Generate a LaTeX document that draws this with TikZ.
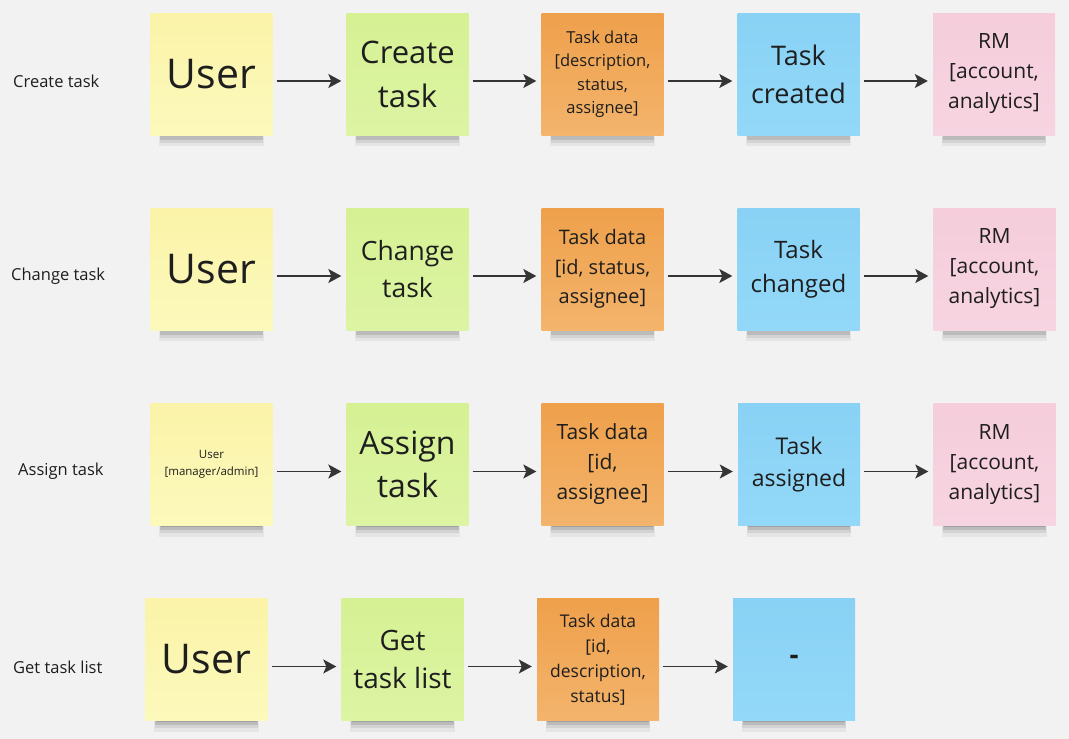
\documentclass[tikz,border=0pt]{standalone}
\usepackage{fontspec}
\setmainfont{Open Sans}
\usetikzlibrary{arrows.meta}
\usetikzlibrary{shadows}

\definecolor{board}{HTML}{F2F2F2}
\definecolor{ink}{HTML}{1E1E1E}
\definecolor{arrowgray}{HTML}{353535}
\definecolor{userA}{HTML}{FAF3A8}
\definecolor{userB}{HTML}{FCF9BC}
\definecolor{cmdA}{HTML}{D5F193}
\definecolor{cmdB}{HTML}{DDF4A4}
\definecolor{dataA}{HTML}{EFA04B}
\definecolor{dataB}{HTML}{F3B46C}
\definecolor{evtA}{HTML}{89D2F5}
\definecolor{evtB}{HTML}{93D8F8}
\definecolor{rmA}{HTML}{F5CDDB}
\definecolor{rmB}{HTML}{F7D4E1}

\tikzset{
  note/.style={minimum width=122pt, minimum height=122pt, inner sep=2pt,
    align=center, text=ink,
    general shadow={fill=black, opacity=.05, shadow yshift=-23pt, shadow scale=.86},
    general shadow={fill=black, opacity=.08, shadow yshift=-20pt, shadow scale=.85},
    general shadow={fill=black, opacity=.11, shadow yshift=-17pt, shadow scale=.84},
    general shadow={fill=black, opacity=.14, shadow yshift=-14pt, shadow scale=.83},
    general shadow={fill=black, opacity=.16, shadow yshift=-12pt, shadow scale=.82}},
  actor/.style={note, top color=userA, bottom color=userB},
  command/.style={note, top color=cmdA, bottom color=cmdB},
  payload/.style={note, top color=dataA, bottom color=dataB},
  event/.style={note, top color=evtA, bottom color=evtB},
  readmodel/.style={note, top color=rmA, bottom color=rmB},
  fs/.style 2 args={font=\fontsize{#1}{#2}\selectfont},
  flow/.style={draw=arrowgray, line width=1.3pt,
    -{Stealth[length=13pt,width=14pt,inset=3pt]},
    shorten <=4pt, shorten >=5pt},
  rowlabel/.style={anchor=west, inner sep=0pt, text=ink, font=\fontsize{16.5}{20}\selectfont}
}

\begin{document}
\begin{tikzpicture}[x=1pt, y=-1pt]
  \fill[board] (0,0) rectangle (1069,739);
  \useasboundingbox (0,0) rectangle (1069,739);

  % create task
  \node[rowlabel] (lcreate) at (13,81) {Create task};
  \node[actor, fs={41}{56}] (user1) at (211.5,74) {User};
  \node[command, fs={31}{44}] (create) at (407.5,74) {Create\\task};
  \node[payload, fs={16.5}{23.5}] (data1) at (602.5,74) {Task data\\{[}description,\\status,\\assignee{]}};
  \node[event, fs={27}{38}] (created) at (798.5,74) {Task\\created};
  \node[readmodel, fs={21}{30}] (rm1) at (994,74) {RM\\{[}account,\\analytics{]}};
  \draw[flow] ([yshift=-7pt]user1.east) -- ([yshift=-7pt]create.west);
  \draw[flow] ([yshift=-7pt]create.east) -- ([yshift=-7pt]data1.west);
  \draw[flow] ([yshift=-7pt]data1.east) -- ([yshift=-7pt]created.west);
  \draw[flow] ([yshift=-7pt]created.east) -- ([yshift=-7pt]rm1.west);

  % change task
  \node[rowlabel] (lchange) at (11,276) {Change task};
  \node[actor, fs={41}{56}] (user2) at (211.5,269) {User};
  \node[command, fs={26.5}{37}] (change) at (407.5,269) {Change\\task};
  \node[payload, fs={20}{29.5}] (data2) at (602.5,269) {Task data\\{[}id, status,\\assignee{]}};
  \node[event, fs={24}{34}] (changed) at (798.5,269) {Task\\changed};
  \node[readmodel, fs={21}{30}] (rm2) at (994.5,269) {RM\\{[}account,\\analytics{]}};
  \draw[flow] ([yshift=-7pt]user2.east) -- ([yshift=-7pt]change.west);
  \draw[flow] ([yshift=-7pt]change.east) -- ([yshift=-7pt]data2.west);
  \draw[flow] ([yshift=-7pt]data2.east) -- ([yshift=-7pt]changed.west);
  \draw[flow] ([yshift=-7pt]changed.east) -- ([yshift=-7pt]rm2.west);

  % assign task
  \node[rowlabel] (lassign) at (18,471) {Assign task};
  \node[actor, fs={11.5}{17}] (user3) at (211.5,464.5) {User\\{[}manager/admin{]}};
  \node[command, fs={32}{43}] (assign) at (407.5,464.5) {Assign\\task};
  \node[payload, fs={21}{30}] (data3) at (602.5,464.5) {Task data\\{[}id,\\assignee{]}};
  \node[event, fs={23}{32}] (assigned) at (799,464.5) {Task\\assigned};
  \node[readmodel, fs={21}{30}] (rm3) at (994.5,464.5) {RM\\{[}account,\\analytics{]}};
  \draw[flow] ([yshift=-7pt]user3.east) -- ([yshift=-7pt]assign.west);
  \draw[flow] ([yshift=-7pt]assign.east) -- ([yshift=-7pt]data3.west);
  \draw[flow] ([yshift=-7pt]data3.east) -- ([yshift=-7pt]assigned.west);
  \draw[flow] ([yshift=-7pt]assigned.east) -- ([yshift=-7pt]rm3.west);

  % get task list
  \node[rowlabel] (llist) at (13,667) {Get task list};
  \node[actor, fs={41}{56}] (user4) at (206.5,659.5) {User};
  \node[command, fs={28}{38}] (getlist) at (402.5,659.5) {Get\\task list};
  \node[payload, fs={17.5}{25}] (data4) at (598,659.5) {Task data\\{[}id,\\description,\\status{]}};
  \node[event, fs={28}{38}] (none) at (794,659.5) {\textbf{-}};
  \draw[flow] ([yshift=-7pt]user4.east) -- ([yshift=-7pt]getlist.west);
  \draw[flow] ([yshift=-7pt]getlist.east) -- ([yshift=-7pt]data4.west);
  \draw[flow] ([yshift=-7pt]data4.east) -- ([yshift=-7pt]none.west);
\end{tikzpicture}
\end{document}
